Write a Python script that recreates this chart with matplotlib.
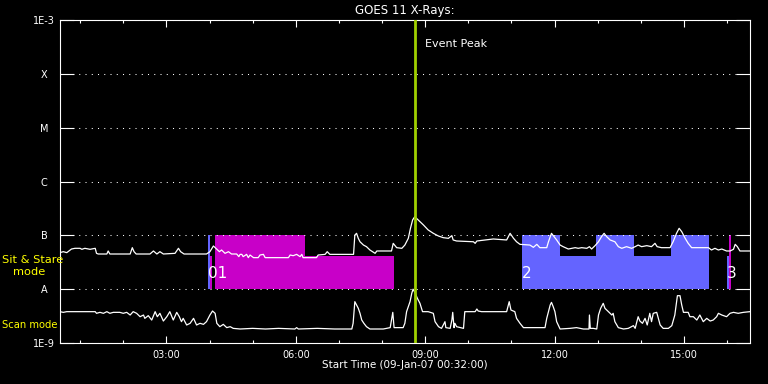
import matplotlib
matplotlib.use("Agg")
import matplotlib.pyplot as plt
from matplotlib.ticker import MultipleLocator, FuncFormatter, NullLocator
import numpy as np

# GOES 11 X-ray flux, 09-Jan-07, time in decimal hours, flux in W/m^2
long_t = [0.53, 0.61, 0.69, 0.80, 0.88, 1.00, 1.04, 1.11, 1.23, 1.35, 1.38, 1.42, 1.62, 1.65, 1.69,
          2.16, 2.21, 2.25, 2.30, 2.62, 2.70, 2.78, 2.85, 2.93, 3.20, 3.28, 3.33, 3.41, 3.93, 4.01,
          4.09, 4.17, 4.23, 4.28, 4.36, 4.44, 4.51, 4.63, 4.68, 4.71,
          4.75, 4.78, 4.86, 4.90, 4.94, 5.02, 5.13, 5.17, 5.25, 5.29, 5.83, 5.87, 5.94, 6.02, 6.10,
          6.14, 6.17, 6.48, 6.52, 6.68, 6.73, 6.79, 7.34, 7.37, 7.41, 7.45, 7.49, 7.57, 7.64, 7.72,
          7.84, 7.88, 8.22, 8.26, 8.34, 8.46, 8.53, 8.61, 8.66, 8.71,
          8.76, 8.84, 8.96, 9.07, 9.19, 9.31, 9.42, 9.54, 9.62, 9.65, 9.73, 10.12, 10.16, 10.20, 10.58,
          10.89, 10.97, 11.05, 11.12, 11.20, 11.43, 11.51, 11.59, 11.66, 11.82, 11.86, 11.93, 12.05,
          12.13, 12.20, 12.32, 12.48, 12.55, 12.63,
          12.75, 12.81, 12.86, 12.94, 13.02, 13.09, 13.15, 13.21, 13.29, 13.40, 13.48, 13.56, 13.67,
          13.79, 13.87, 13.94, 14.02, 14.14, 14.25, 14.33, 14.38, 14.48, 14.68, 14.75, 14.83, 14.89,
          14.95, 15.03, 15.10, 15.18, 15.57, 15.64, 15.72, 15.80, 15.88, 15.99, 16.07, 16.15, 16.19,
          16.24, 16.30, 16.53]
long_f = [4.77, 4.97, 4.77, 5.57, 5.74, 5.74, 5.5, 5.74, 5.5, 5.74, 4.63, 4.5, 4.5, 5.12, 4.5,
          4.5, 5.9, 4.97, 4.5, 4.5, 5.12, 4.5, 4.97, 4.5, 4.63, 5.74, 4.97, 4.5, 4.5, 4.97,
          6.34, 5.5, 4.97, 5.34, 4.63, 4.97, 4.5, 4.5, 4.02, 4.43,
          4.43, 4.02, 4.43, 3.85, 4.31, 3.85, 3.85, 4.31, 4.43, 3.85, 3.85, 4.31, 4.19, 4.43, 4.02,
          4.43, 3.85, 3.85, 4.31, 4.43, 4.97, 4.43, 4.43, 10.1, 10.9, 8.8, 7.6, 6.6, 6.16, 5.34,
          4.63, 5.12, 5.12, 7.1, 5.9, 5.74, 6.6, 8.8, 13.5, 19.3,
          22.2, 19.3, 15.6, 12.6, 10.9, 9.7, 9.05, 8.8, 9.87, 8.2, 7.85, 7.6, 7.1, 7.85, 8.55,
          8.2, 10.9, 8.8, 7.6, 6.8, 6.6, 5.99, 6.8, 5.9, 5.9, 7.6, 10.9, 8.2,
          6.6, 6.16, 5.57, 5.9, 5.74, 5.9,
          5.74, 6.16, 5.57, 6.43, 7.6, 9.45, 10.9, 9.45, 8.2, 7.6, 6.16, 5.74, 6.16,
          5.74, 6.16, 6.6, 6.16, 6.43, 6.16, 7.1, 6.16, 5.9, 5.9, 7.6, 10.9, 13.5,
          11.7, 8.8, 7.1, 5.9, 5.9, 5.34, 5.74, 5.34, 5.57, 5.12, 5.12, 5.5, 6.8,
          6.16, 5.12, 5.12]
long_f = [v * 1e-8 for v in long_f]

short_t = [0.53, 0.61, 0.69, 1.35, 1.38, 1.46, 1.54, 1.62, 1.69, 1.77, 1.92, 2.00, 2.08, 2.16, 2.23,
           2.31, 2.39, 2.47, 2.50, 2.58, 2.66, 2.74, 2.79, 2.85, 2.93, 3.01, 3.08, 3.16, 3.24, 3.30,
           3.35, 3.39, 3.47, 3.55, 3.63, 3.70, 3.78, 3.86, 3.93, 4.01, 4.07, 4.13, 4.17, 4.24, 4.32,
           4.40, 4.48, 4.55, 4.71,
           5.00, 5.30, 5.60, 5.98, 6.02, 6.06, 6.50, 6.90, 7.30, 7.33, 7.37, 7.41, 7.45, 7.49, 7.53,
           7.58, 7.64, 7.72, 8.03, 8.19, 8.25, 8.28, 8.49, 8.53, 8.57, 8.65, 8.69, 8.72,
           8.76, 8.82, 8.88, 8.94, 9.07, 9.19, 9.23, 9.31, 9.38, 9.46, 9.48, 9.58, 9.62, 9.64, 9.67,
           9.69, 9.73, 9.89, 9.92, 10.16, 10.20, 10.23, 10.31, 10.89, 10.95, 10.99, 11.08, 11.12,
           11.20, 11.28, 11.78, 11.82, 11.90, 11.93, 11.97, 12.01, 12.05, 12.13, 12.36, 12.51, 12.67,
           12.80, 12.81, 12.83, 12.90, 12.98, 13.02, 13.07, 13.13, 13.17, 13.25, 13.33, 13.36, 13.40,
           13.48, 13.60, 13.71, 13.83, 13.87, 13.94, 13.98, 14.04, 14.10, 14.15, 14.21, 14.25, 14.29,
           14.37, 14.45, 14.52, 14.64, 14.72, 14.79, 14.85, 14.91, 14.95, 14.99, 15.10, 15.14, 15.22,
           15.30, 15.37, 15.45, 15.53, 15.61, 15.68, 15.76, 15.80, 15.88, 15.99, 16.07, 16.15, 16.26,
           16.38, 16.53]
short_f = [3.82, 3.71, 3.82, 3.82, 3.56, 3.71, 3.56, 3.82, 3.56, 3.71, 3.71, 3.56, 3.71, 3.31, 3.82,
           3.56, 3.08, 3.31, 2.87, 3.22, 2.67, 3.82, 3.08, 3.56, 2.56, 3.08, 3.82, 2.67, 3.71, 3.08,
           2.49, 2.87, 2.16, 2.32, 2.87, 2.16, 2.32, 2.22, 2.49, 3.31, 3.93, 3.56, 2.32, 2.01, 2.22,
           1.93, 2.01, 1.87, 1.82,
           1.87, 1.82, 1.87, 1.82, 1.93, 1.82, 1.87, 1.82, 1.82, 2.32, 5.86, 5.08, 4.41, 3.56, 2.67,
           2.32, 2.01, 1.82, 1.82, 1.93, 3.71, 1.93, 1.93, 2.32, 3.82, 5.86, 8.37, 10.0,
           8.73, 6.76, 5.46, 3.82, 3.82, 3.56, 2.49, 2.01, 1.87, 2.49, 1.93, 1.87, 2.67, 3.71, 1.93,
           2.32, 2.01, 1.87, 3.82, 3.82, 4.28, 3.93, 3.82, 3.82, 5.86, 4.10, 3.82, 2.87,
           2.32, 1.93, 1.93, 2.87, 5.08, 5.69, 4.73, 3.82, 2.49, 1.82, 1.87, 1.93, 1.82,
           1.82, 3.31, 1.87, 1.87, 1.82, 3.31, 4.41, 5.46, 4.41, 3.82, 3.31, 3.56, 2.49,
           1.93, 1.82, 1.87, 2.1, 1.87, 3.08, 2.56, 2.32, 2.87, 2.16, 3.56, 2.49, 3.56,
           3.71, 2.16, 1.87, 1.87, 2.1, 3.31, 7.57, 7.57, 5.08, 3.71, 3.71, 3.08, 3.08,
           2.67, 3.31, 2.49, 2.87, 2.56, 2.67, 3.08, 3.56, 3.31, 3.08, 3.56, 3.71, 3.56,
           3.71, 3.82]
short_f = [v * 1e-9 for v in short_f]

# observation blocks (start/end hour, top of bar in flux units)
blue_start = [3.965, 11.246, 12.127, 12.962, 13.843, 14.701, 15.999]
blue_end = [4.004, 12.127, 12.962, 13.843, 14.701, 15.58, 16.046]
blue_top = [1e-7, 1e-7, 4.15e-8, 1e-7, 4.15e-8, 1e-7, 4.15e-8]
mag_start = [4.004, 4.127, 6.214, 16.046]
mag_end = [4.05, 6.214, 8.278, 16.10]
mag_top = [4.15e-8, 1e-7, 4.15e-8, 1e-7]
obs_labels = ["01", "2", "3"]
obs_label_t = [3.97, 11.25, 16.0]

event_peak = 8.765
t_start, t_end = 0.5333, 16.5333
levels = [1e-9, 1e-8, 1e-7, 1e-6, 1e-5, 1e-4, 1e-3]
level_names = ["1E-9", "A", "B", "C", "M", "X", "1E-3"]

fig = plt.figure(figsize=(7.68, 3.84), dpi=100, facecolor="black")
ax = fig.add_axes([60 / 768, 41 / 384, 690 / 768, 323 / 384])
ax.set_facecolor("black")
ax.set_yscale("log")
ax.set_ylim(1e-9, 1e-3)
ax.set_xlim(t_start, t_end)

bottom = 1e-8
ax.bar(blue_start, np.array(blue_top) - bottom, width=np.array(blue_end) - np.array(blue_start),
       bottom=bottom, align="edge", color="#6464ff", linewidth=0, zorder=1)
ax.bar(mag_start, np.array(mag_top) - bottom, width=np.array(mag_end) - np.array(mag_start),
       bottom=bottom, align="edge", color="#c800c8", linewidth=0, zorder=1)

ax.plot(long_t, long_f, color="white", lw=0.9, zorder=3)
ax.plot(short_t, short_f, color="white", lw=0.9, zorder=3)

for lab, t in zip(obs_labels, obs_label_t):
    ax.text(t, 1.6e-8, lab, color="white", fontsize=11, ha="left", va="baseline", zorder=4)

ax.axvline(event_peak, color="#a0d000", lw=2, zorder=5)
ax.annotate("Event Peak", xy=(event_peak, 0.9164), xycoords=("data", "axes fraction"),
            xytext=(7.5, 0), textcoords="offset points", color="white", fontsize=8,
            ha="left", va="baseline")

# axes styling
for s in ax.spines.values():
    s.set_color("white")
    s.set_linewidth(0.8)

ax.set_yticks(levels)
ax.set_yticklabels(level_names)
ax.yaxis.set_minor_locator(NullLocator())
ax.tick_params(axis="y", which="major", direction="in", length=10, width=0.8, colors="white",
               left=True, right=True, labelsize=7, pad=11.5)
for lbl in ax.get_yticklabels():
    lbl.set_horizontalalignment("center")
ax.grid(axis="y", which="major", color="white", linestyle=(0, (1, 5)), linewidth=0.75)

ax.xaxis.set_major_locator(MultipleLocator(3))
ax.xaxis.set_minor_locator(MultipleLocator(1))
ax.xaxis.set_major_formatter(FuncFormatter(lambda v, p: "%02d:%02d" % (int(v) % 24, int(round((v % 1) * 60)))))
ax.tick_params(axis="x", which="major", direction="in", length=4.7, width=0.8, colors="white",
               top=True, bottom=True, labelsize=7, pad=4.8)
ax.tick_params(axis="x", which="minor", direction="in", length=2.5, width=0.8, colors="white",
               top=True, bottom=True)
ax.set_xlabel("Start Time (09-Jan-07 00:32:00)", color="white", fontsize=7.5, labelpad=0.5)
ax.set_title("GOES 11 X-Rays:", color="white", fontsize=8.5, pad=4.3)

fig.text(2 / 768, 1 - 263 / 384, "Sit & Stare", color="yellow", fontsize=8.2, ha="left", va="baseline")
fig.text(13 / 768, 1 - 275 / 384, "mode", color="yellow", fontsize=8.2, ha="left", va="baseline")
fig.text(2 / 768, 1 - 328 / 384, "Scan mode", color="yellow", fontsize=7.2, ha="left", va="baseline")

fig.savefig("out.png", dpi=100, facecolor="black")
